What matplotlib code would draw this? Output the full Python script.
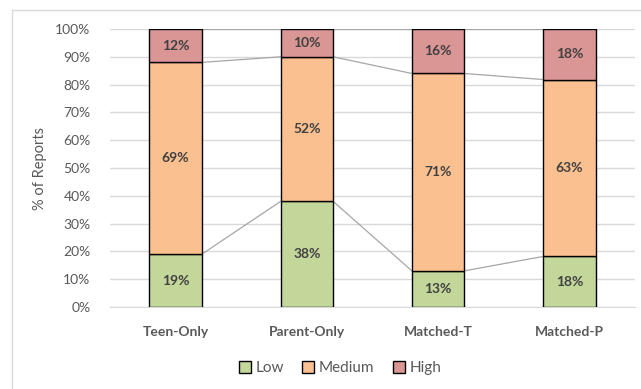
import matplotlib
matplotlib.use("Agg")
import matplotlib.pyplot as plt
import numpy as np
from matplotlib.patches import Rectangle, Patch

categories = ["Teen-Only", "Parent-Only", "Matched-T", "Matched-P"]
low = [19, 38, 13, 18]
medium = [69, 52, 71, 63]
high = [12, 10, 16, 18]
series_names = ["Low", "Medium", "High"]
colors = ["#C4D79B", "#FAC090", "#DA9694"]

plt.rcParams['font.family'] = ['Lato', 'DejaVu Sans']

fig = plt.figure(figsize=(6.41, 3.89), dpi=100)
ax = fig.add_axes([110/641, 82/389, 525/641, 278/389])

data = np.array([low, medium, high], dtype=float)
totals = data.sum(axis=0)
frac = data / totals
x = np.arange(len(categories))
w = 0.4
bottom = np.zeros(len(categories))
tops = []
for i, name in enumerate(series_names):
    ax.bar(x, frac[i], w, bottom=bottom, color=colors[i], edgecolor="black",
           linewidth=1.0, label=name, zorder=3)
    for j in range(len(categories)):
        ax.text(x[j], bottom[j] + frac[i][j] / 2, f"{int(data[i][j])}%",
                ha="center", va="center", fontsize=10, fontweight="bold",
                color="#404040", zorder=5)
    bottom = bottom + frac[i]
    tops.append(bottom.copy())

# series lines
for t in tops:
    for j in range(len(categories) - 1):
        ax.plot([x[j] + w/2, x[j+1] - w/2], [t[j], t[j+1]], color="#A6A6A6",
                linewidth=0.9, zorder=2)

ax.set_xlim(-0.5, len(categories) - 0.5)
ax.set_ylim(0, 1)
ax.set_yticks(np.arange(0, 1.01, 0.1))
ax.set_yticklabels([f"{int(round(v*100))}%" for v in np.arange(0, 1.01, 0.1)])
ax.set_xticks(x)
ax.set_xticklabels(categories, fontweight="bold")
ax.yaxis.grid(True, color="#D9D9D9", linewidth=1, zorder=0)
ax.set_axisbelow(True)
for s in ["top", "right", "left"]:
    ax.spines[s].set_visible(False)
ax.spines["bottom"].set_color("#D9D9D9")
ax.tick_params(axis="both", length=0, colors="#595959", labelsize=10)
ax.tick_params(axis="y", pad=14)
ax.tick_params(axis="x", pad=14)
ax.set_ylabel("% of Reports", color="#595959", fontsize=10.5, labelpad=0)
ax.yaxis.set_label_coords(-112/525 + 0.0, 0.5)
ax.yaxis.label.set_position((0, 0.5))
ax.yaxis.set_label_coords(-(110 - 47) / 525, 0.5)

handles = [Patch(facecolor=c, edgecolor="black", label=n) for c, n in zip(colors, series_names)]
leg = fig.legend(handles=handles, loc="center", bbox_to_anchor=(340/641, 1 - 368/389),
                 ncol=3, frameon=False, fontsize=11, handlelength=0.8, handleheight=0.8,
                 handletextpad=0.3, columnspacing=1.2)
for t in leg.get_texts():
    t.set_color("#595959")

fig.patches.append(Rectangle((12/641, -0.1), 1.0, 1 - 10/389 + 0.1, transform=fig.transFigure,
                             fill=False, edgecolor="#D9D9D9", linewidth=1))

fig.savefig("out.png", dpi=100)
